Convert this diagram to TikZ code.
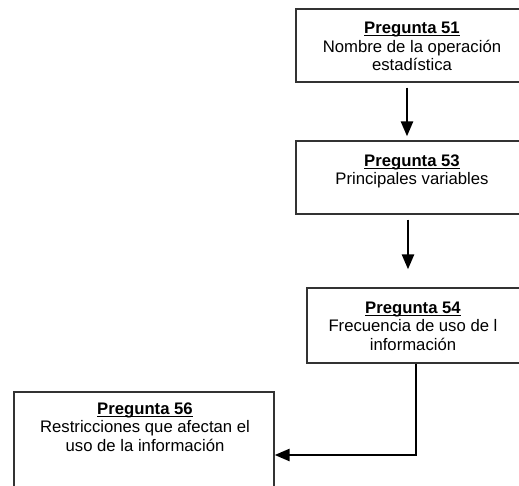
\documentclass[tikz,border=0pt]{standalone}
\usepackage{fontspec}
\setmainfont{Liberation Sans}
\usetikzlibrary{arrows.meta}
\newcommand{\subrayado}[1]{\setbox0\hbox{\textbf{#1}}\rlap{\rule[-2.6pt]{\wd0}{1.1pt}}\box0}

\begin{document}
\begin{tikzpicture}[x=1pt,y=-1pt,
  caja/.style={draw=black!80,line width=1.3pt,rectangle,inner sep=0pt},
  texto/.style={anchor=north,align=center,inner sep=0pt,font=\fontsize{16.7}{18.5}\selectfont},
  flecha/.style={line width=2.6pt,-{Triangle[length=15pt,width=12pt]}}]
\useasboundingbox (0,0) rectangle (519,486);
\clip (0,0) rectangle (519,486);
% the four boxes (right and bottom edges run off the page)
\node[caja,minimum width=232pt,minimum height=73pt] (p51) at (412,45.5) {};
\node[caja,minimum width=232pt,minimum height=73pt] (p53) at (412,177.5) {};
\node[caja,minimum width=218pt,minimum height=75pt] (p54) at (416,325.5) {};
\node[caja,minimum width=260pt,minimum height=126pt] (p56) at (144,455) {};
% texts
\node[texto] (t51) at ([yshift=-13.5pt]p51.north) {\subrayado{Pregunta 51}\\Nombre de la operación\\estadística};
\node[texto] (t53) at ([yshift=-14pt]p53.north) {\subrayado{Pregunta 53}\\Principales variables};
\node[texto] (t54) at ([yshift=-14pt,xshift=-3pt]p54.north) {\subrayado{Pregunta 54}\\Frecuencia de uso de l\\información};
\node[texto] (t56) at ([yshift=-11pt,xshift=1pt]p56.north) {\subrayado{Pregunta 56}\\Restricciones que afectan el\\uso de la información};
% connectors
\draw[flecha,shorten <=5pt,shorten >=4pt] ([xshift=-5pt]p51.south) -- ([xshift=-5pt]p53.north);
\draw[flecha,shorten <=5pt,shorten >=18pt] ([xshift=-4pt]p53.south) -- ([xshift=-8pt]p54.north);
\draw[flecha] (p54.south) |- (p56.east);
\end{tikzpicture}
\end{document}
